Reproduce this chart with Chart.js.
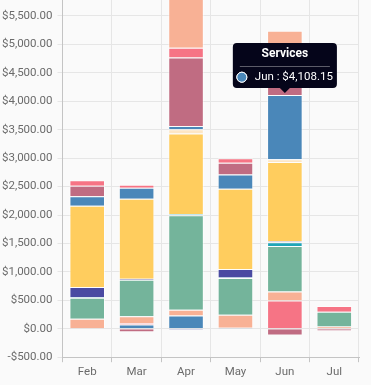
<!DOCTYPE html>
<html>
<head>
<meta charset="utf-8">
<script src="https://cdn.jsdelivr.net/npm/chart.js@4/dist/chart.umd.min.js"></script>
<style>
  html, body { margin: 0; padding: 0; background: #fafafa; }
  #wrap { width: 371px; height: 385px; position: relative; }
</style>
</head>
<body>
<div id="wrap"><canvas id="chart"></canvas></div>
<script>
/* data */
const months = ['Feb', 'Mar', 'Apr', 'May', 'Jun', 'Jul'];

const transfers     = [0, 76, 234, 18, 10, 0];
const health        = [0, 23, 0, 0, 488, 0];
const utilities     = [178, 123, 100, 228, 159, 40];
const groceries     = [368, 641, 1660, 645, 797, 260];
const transport     = [10, 0, 23, 10, 65, 0];
const insurance     = [180, 15, -20, 148, 18, 0];
const rent          = [1425, 1409, 1415, 1413, 1396, 0];
const subscriptions = [0, 0, 76, 0, 48, 0];
const services      = [170, 193, 58, 252, 1127.15, 0];
const dining        = [182, 0, 1204, 206, 150, 0];
const shopping      = [100, 53, 169, 77, 0, 100];
const travel        = [0, 0, 960, 0, 981, 0];
const refunds       = [0, -60, 0, 0, -120, -40];

const yTicks = [-500, 0, 500, 1000, 1500, 2000, 2500, 3000, 3500, 4000, 4500, 5000, 5500];
const yMin = -500, yMax = 5780;

/* util */
const money = v => (v < 0 ? '-' : '') + '$' +
  Math.abs(v).toLocaleString('en-US', {minimumFractionDigits: 2, maximumFractionDigits: 2});

const series = [
  ['Transfers', transfers, '#4a87b9'],
  ['Health', health, '#f67485'],
  ['Utilities', utilities, '#f8b195'],
  ['Groceries', groceries, '#74b49b'],
  ['Transport', transport, '#1fa5b8'],
  ['Insurance', insurance, '#4a4aa2'],
  ['Rent', rent, '#ffcd5e'],
  ['Subscriptions', subscriptions, '#fde6c4'],
  ['Services', services, '#4a87b9'],
  ['Dining', dining, '#c06c82'],
  ['Shopping', shopping, '#f67485'],
  ['Travel', travel, '#f8b195'],
  ['Refunds', refunds, '#c06c82']
];

/* thin rule under the tooltip title */
const titleRule = {
  id: 'titleRule',
  afterTooltipDraw(chart, args) {
    const t = args.tooltip;
    if (!t.opacity) return;
    const c = chart.ctx;
    const y = Math.round(t.y + 4 + 14.4 + 4.5) + 0.5;
    c.save();
    c.strokeStyle = 'rgba(255,255,255,0.35)';
    c.lineWidth = 1;
    c.beginPath();
    c.moveTo(t.x + 7, y);
    c.lineTo(t.x + t.width - 7, y);
    c.stroke();
    c.restore();
  }
};

Chart.defaults.font.family = 'Roboto';
Chart.defaults.font.size = 11.5;
Chart.defaults.color = '#6b6b6b';

const chart = new Chart(document.getElementById('chart'), {
  type: 'bar',
  data: {
    labels: months,
    datasets: series.map(([label, data, color]) => ({
      label, data,
      backgroundColor: color,
      borderColor: 'rgba(255,255,255,0.55)',
      borderWidth: 1
    }))
  },
  options: {
    responsive: true,
    maintainAspectRatio: false,
    animation: false,
    events: [],
    layout: { padding: { left: 2, right: 12, top: 0, bottom: 3 } },
    scales: {
      x: {
        stacked: true,
        grid: { color: '#e6e6e6', tickColor: '#c4c4c4', tickLength: 5 },
        border: { color: '#c4c4c4' },
        ticks: { padding: 3 }
      },
      y: {
        stacked: true,
        min: yMin,
        max: yMax,
        afterBuildTicks: s => { s.ticks = yTicks.map(value => ({ value })); },
        afterFit: s => { s.paddingTop = 0; s.width = 60.5; },
        grid: { color: '#e6e6e6', tickLength: 5 },
        border: { color: '#c4c4c4' },
        ticks: { padding: 5, callback: v => money(v) }
      }
    },
    plugins: {
      legend: { display: false },
      tooltip: {
        yAlign: 'bottom',
        xAlign: 'center',
        backgroundColor: '#05051a',
        titleColor: '#fff',
        bodyColor: '#fff',
        titleFont: { family: 'Roboto', size: 12, weight: 'bold' },
        bodyFont: { family: 'Roboto', size: 11.5 },
        titleAlign: 'center',
        titleMarginBottom: 9,
        padding: 4,
        cornerRadius: 4,
        caretSize: 5,
        usePointStyle: true,
        boxWidth: 10,
        boxHeight: 10,
        boxPadding: 6,
        callbacks: {
          title: items => items[0].dataset.label,
          label: ctx => {
            const v = ctx.parsed.y;
            let top = 0;
            for (let i = 0; i <= ctx.datasetIndex; i++) {
              const d = ctx.chart.data.datasets[i].data[ctx.dataIndex];
              if ((d >= 0) === (v >= 0)) top += d;
            }
            return ctx.label + ' : ' + money(top);
          },
          labelColor: ctx => ({ borderColor: '#ffffff', backgroundColor: ctx.dataset.backgroundColor, borderWidth: 1 }),
          labelPointStyle: () => ({ pointStyle: 'circle', rotation: 0 })
        }
      }
    }
  },
  plugins: [titleRule]
});

/* show the Services / Jun tooltip */
chart.tooltip.setActiveElements([{ datasetIndex: 8, index: 4 }], { x: 0, y: 0 });
chart.update();
</script>
</body>
</html>
